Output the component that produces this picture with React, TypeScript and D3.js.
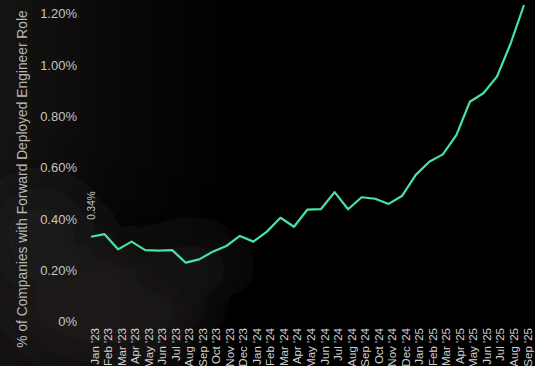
import React from "react";
import * as d3 from "d3";

const months = [
  "Jan '23","Feb '23","Mar '23","Apr '23","May '23","Jun '23","Jul '23","Aug '23","Sep '23","Oct '23","Nov '23","Dec '23",
  "Jan '24","Feb '24","Mar '24","Apr '24","May '24","Jun '24","Jul '24","Aug '24","Sep '24","Oct '24","Nov '24","Dec '24",
  "Jan '25","Feb '25","Mar '25","Apr '25","May '25","Jun '25","Jul '25","Aug '25","Sep '25",
];
const shares = [
  0.336, 0.346, 0.287, 0.317, 0.284, 0.282, 0.284, 0.235, 0.248, 0.278, 0.3, 0.339,
  0.317, 0.356, 0.41, 0.375, 0.442, 0.444, 0.51, 0.443, 0.49, 0.484, 0.464, 0.496,
  0.577, 0.628, 0.657, 0.732, 0.862, 0.895, 0.96, 1.087, 1.239,
];
const yTicks = [0, 0.2, 0.4, 0.6, 0.8, 1.0, 1.2];
const yTitle = "% of Companies with Forward Deployed Engineer Role";

const W = 535;
const H = 366;
const FONT = "'Liberation Sans', Arial, sans-serif";

export default function App() {
  const x = d3.scalePoint<string>().domain(months).range([91, 524]);
  const y = d3.scaleLinear().domain([0, 1.2]).range([323, 15]);
  const line = d3
    .line<number>()
    .x((_, i) => x(months[i]) as number)
    .y((d) => y(d));
  const fmtTick = (v: number) => (v === 0 ? "0%" : d3.format(".2f")(v) + "%");

  return (
    <div style={{ position: "fixed", left: 0, top: 0, width: W, height: H, overflow: "hidden" }}>
      <svg width={W} height={H} style={{ display: "block" }}>
        <defs>
          <linearGradient id="bgl" x1="0" y1="0" x2="1" y2="0">
            <stop offset="0" stopColor="#151413" />
            <stop offset="0.2" stopColor="#0a0909" />
            <stop offset="0.45" stopColor="#000" />
          </linearGradient>
          <filter id="blur" x="-50%" y="-50%" width="200%" height="200%">
            <feGaussianBlur stdDeviation="22" />
          </filter>
        </defs>
        <rect width={W} height={H} fill="#000" />
        <rect width={W} height={H} fill="url(#bgl)" />
        <g filter="url(#blur)" opacity={0.8}>
          <ellipse cx={110} cy={305} rx={95} ry={60} fill="#201e1c" />
          <ellipse cx={190} cy={265} rx={55} ry={35} fill="#171514" />
          <ellipse cx={40} cy={235} rx={55} ry={50} fill="#1e1c1a" />
          <ellipse cx={130} cy={230} rx={25} ry={20} fill="#050505" />
        </g>

        {yTicks.map((t) => (
          <text
            key={t}
            x={77}
            y={y(t)}
            textAnchor="end"
            dominantBaseline="middle"
            fontFamily={FONT}
            fontSize={13}
            fill="#c4c4c4"
          >
            {fmtTick(t)}
          </text>
        ))}

        <text
          transform={`translate(27,${(15 + 343) / 2}) rotate(-90)`}
          textAnchor="middle"
          fontFamily={FONT}
          fontSize={13.8}
          fill="#b8b8b8"
        >
          {yTitle}
        </text>

        {months.map((m) => (
          <text
            key={m}
            transform={`translate(${(x(m) as number) + 7.5},328) rotate(-90)`}
            textAnchor="end"
            fontFamily={FONT}
            fontSize={11.5}
            fill="#d0d0d0"
          >
            {m}
          </text>
        ))}

        <path d={line(shares) || ""} fill="none" stroke="#47e3a2" strokeWidth={2.2} strokeLinejoin="round" />

        <text
          transform={`translate(${(x(months[0]) as number) + 3.5},${y(shares[0]) - 17}) rotate(-90)`}
          textAnchor="start"
          fontFamily={FONT}
          fontSize={10}
          fill="#c8c8c8"
        >
          {d3.format(".2f")(shares[0]) + "%"}
        </text>
      </svg>
    </div>
  );
}
